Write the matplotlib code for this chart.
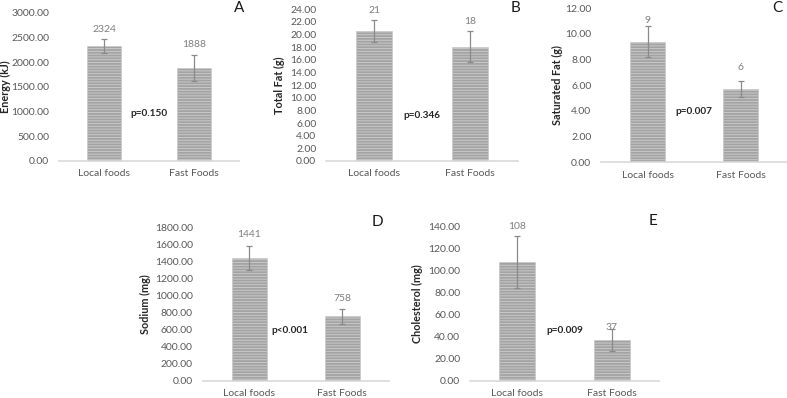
import matplotlib
matplotlib.use("Agg")
import matplotlib.pyplot as plt
import numpy as np

plt.rcParams['font.family'] = ['Lato', 'DejaVu Sans']
plt.rcParams['hatch.linewidth'] = 0.7

categories = ["Local foods", "Fast Foods"]

energy_mean = [2324, 1888]
energy_err = [135, 260]
fat_mean = [20.6, 18.1]
fat_err = [1.7, 2.45]
satfat_mean = [9.4, 5.7]
satfat_err = [1.2, 0.63]
sodium_mean = [1441, 758]
sodium_err = [140, 88]
chol_mean = [108, 37]
chol_err = [23.5, 10.2]

ylabels = ["Energy (kJ)", "Total Fat (g)", "Saturated Fat (g)", "Sodium (mg)", "Cholesterol (mg)"]
pvalues = ["p=0.150", "p=0.346", "p=0.007", "p<0.001", "p=0.009"]
letters = ["A", "B", "C", "D", "E"]
ymaxes = [3000, 24, 12, 1800, 140]
ysteps = [500, 2, 2, 200, 20]

W, H = 787, 398
fig = plt.figure(figsize=(W / 100, H / 100), dpi=100)

# panel boxes in pixels: left, right, top, bottom
boxes = [
    (59, 239, 12.7, 161),
    (326, 518, 9.3, 161),
    (601, 787, 8.3, 162.3),
    (202.7, 388.7, 227.3, 380.7),
    (470, 659, 226.7, 381),
]
# right edge of rotated y labels (pixels)
ylabel_x = [11, 285, 563, 151, 423]
letter_pos = [(239, 8), (515, 8), (777, 8), (377, 222), (653, 221)]
p_pos = [(0.5, 0.32), (0.5, 0.30), (0.5, 0.33), (0.47, 0.33), (0.5, 0.33)]
label_off = [(10, 10), (10, 10), (6, 14), (11, 10), (10, 1)]

means = [energy_mean, fat_mean, satfat_mean, sodium_mean, chol_mean]
errs = [energy_err, fat_err, satfat_err, sodium_err, chol_err]

tick_color = '#595959'
for i in range(5):
    l, r, t, b = boxes[i]
    ax = fig.add_axes([l / W, 1 - b / H, (r - l) / W, (b - t) / H])
    x = np.arange(len(categories))
    ax.bar(x, means[i], width=0.38, color='#a3a3a3', edgecolor='#c9c9c9',
           linewidth=0.4, hatch='------', zorder=2)
    ax.errorbar(x, means[i], yerr=errs[i], fmt='none', ecolor='#8a8a8a',
                elinewidth=0.9, capsize=2.5, capthick=0.9, zorder=3)
    ax.set_xlim(-0.5, 1.5)
    ax.set_ylim(0, ymaxes[i])
    ax.set_yticks(np.arange(0, ymaxes[i] + ysteps[i] / 2, ysteps[i]))
    ax.set_yticklabels([f"{v:.2f}" for v in ax.get_yticks()])
    ax.set_xticks(x)
    ax.set_xticklabels(categories)
    for s in ['top', 'right', 'left']:
        ax.spines[s].set_visible(False)
    ax.spines['bottom'].set_color('#d9d9d9')
    ax.spines['bottom'].set_linewidth(1.2)
    ax.tick_params(axis='both', length=0, labelsize=7.5, colors=tick_color)
    ax.tick_params(axis='y', pad=7)
    ax.tick_params(axis='x', pad=6)
    ax.set_ylabel(ylabels[i], fontsize=7.8, fontweight='bold', color='#262626')
    ax.yaxis.set_label_coords((ylabel_x[i] - l) / (r - l), 0.5)
    # value labels
    for j in range(len(categories)):
        top = means[i][j] + errs[i][j]
        ax.annotate(f"{means[i][j]:.0f}", (x[j], top), xytext=(0, label_off[i][j] * 0.72),
                    textcoords='offset points', ha='center', va='center',
                    fontsize=7.5, color='#7f7f7f')
    ax.text(p_pos[i][0], p_pos[i][1], pvalues[i], transform=ax.transAxes,
            ha='center', va='center', fontsize=7.2, fontweight='bold', color='#262626')
    fig.text(letter_pos[i][0] / W, 1 - letter_pos[i][1] / H, letters[i],
             ha='center', va='center', fontsize=11, color='#1a1a1a')

fig.savefig("out.png", dpi=100)
